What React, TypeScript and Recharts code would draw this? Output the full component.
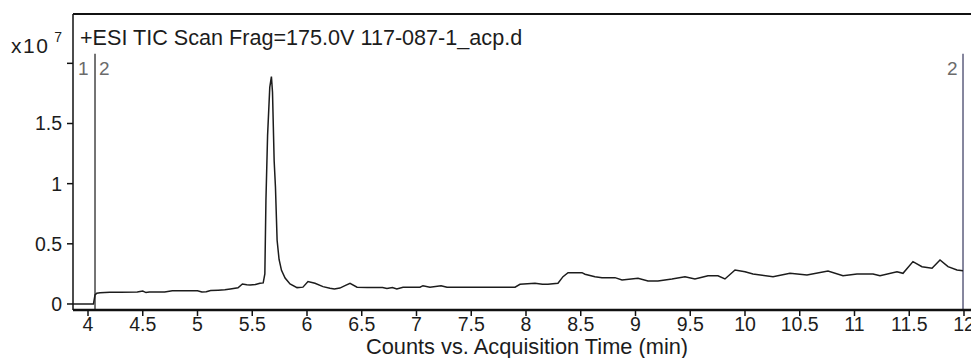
import React from 'react';
import { LineChart, Line, XAxis, YAxis, ReferenceLine, Label } from 'recharts';

// acquisition time (min) and TIC counts (x10^7)
const times = [
  3.863, 4.05, 4.064, 4.08, 4.11, 4.2, 4.3, 4.45, 4.5, 4.53, 4.56, 4.7, 4.77, 4.9, 5.0, 5.04,
  5.08, 5.12, 5.19, 5.25, 5.3, 5.37, 5.41, 5.45, 5.48, 5.53, 5.57, 5.6, 5.615, 5.625, 5.64,
  5.66, 5.675, 5.685, 5.7, 5.712, 5.727, 5.745, 5.767, 5.8, 5.845, 5.909, 5.963, 6.009, 6.073,
  6.146, 6.21, 6.25, 6.3, 6.347, 6.393, 6.457, 6.55, 6.69, 6.73, 6.78, 6.82, 6.877, 7.032,
  7.059, 7.123, 7.224, 7.279, 7.58, 7.9, 7.945, 8.082, 8.15, 8.2, 8.292, 8.338, 8.384, 8.511,
  8.539, 8.63, 8.694, 8.813, 8.877, 9.023, 9.114, 9.205, 9.333, 9.452, 9.543, 9.662, 9.753,
  9.817, 9.909, 10.0, 10.073, 10.256, 10.411, 10.566, 10.758, 10.895, 11.023, 11.169, 11.233,
  11.388, 11.443, 11.534, 11.616, 11.708, 11.781, 11.854, 11.936, 11.991,
];
const counts = [
  0.0, 0.0, 0.075, 0.09, 0.094, 0.097, 0.097, 0.1, 0.108, 0.095, 0.1, 0.1, 0.11, 0.11, 0.11, 0.1,
  0.102, 0.112, 0.115, 0.118, 0.125, 0.135, 0.166, 0.16, 0.158, 0.162, 0.172, 0.175, 0.25, 0.86, 1.4,
  1.8, 1.89, 1.76, 1.19, 0.97, 0.53, 0.37, 0.28, 0.216, 0.166, 0.136, 0.14, 0.186, 0.172,
  0.144, 0.13, 0.125, 0.132, 0.152, 0.172, 0.139, 0.136, 0.136, 0.128, 0.136, 0.125, 0.139, 0.139,
  0.152, 0.139, 0.152, 0.139, 0.139, 0.14, 0.164, 0.172, 0.164, 0.164, 0.172, 0.227, 0.26, 0.26,
  0.247, 0.227, 0.219, 0.219, 0.2, 0.214, 0.191, 0.191, 0.208, 0.227, 0.208, 0.235, 0.235,
  0.208, 0.283, 0.268, 0.249, 0.227, 0.255, 0.241, 0.274, 0.235, 0.249, 0.249, 0.235,
  0.268, 0.255, 0.352, 0.31, 0.297, 0.366, 0.31, 0.283, 0.277,
];

const xTicks = [4, 4.5, 5, 5.5, 6, 6.5, 7, 7.5, 8, 8.5, 9, 9.5, 10, 10.5, 11, 11.5, 12];
const yTicks = [0, 0.5, 1, 1.5, 2];

// start / end markers of the integration window
const markerStart = 4.064;
const markerEnd = 11.991;
const markerTop = 2.08;

const X_MIN = 3.863;
const X_MAX = 12.064;
const Y_MIN = -0.05;
const Y_MAX = 2.41;

const data = times.map((t, i) => ({ t, v: counts[i] }));

const FONT = '"Liberation Sans", Arial, sans-serif';
const INK = '#1c1c1c';

function Header({ viewBox }: any) {
  const { x, y, width } = viewBox;
  return (
    <g fontFamily={FONT} fill={INK}>
      <text x={x + 11} y={y + 39} fontSize={21} letterSpacing={1.5}>
        x10
        <tspan dx={5} dy={-11} fontSize={14}>7</tspan>
      </text>
      <text x={x + width + 7} y={y + 31} fontSize={21.6}>
        +ESI TIC Scan Frag=175.0V 117-087-1_acp.d
      </text>
    </g>
  );
}

function StartMarkerLabels({ viewBox }: any) {
  const { x, y } = viewBox;
  return (
    <g fontFamily={FONT} fill="#6b6b6b" fontSize={19}>
      <text x={x - 17} y={y + 21}>1</text>
      <text x={x + 4} y={y + 21}>2</text>
    </g>
  );
}

function EndMarkerLabels({ viewBox }: any) {
  const { x, y } = viewBox;
  return (
    <text x={x - 16} y={y + 21} fontFamily={FONT} fill="#6b6b6b" fontSize={19}>
      2
    </text>
  );
}

export default function App() {
  return (
    <div style={{ position: 'absolute', left: 0, top: 0, width: 971, height: 358, background: '#fff' }}>
      <LineChart width={971} height={358} data={data} margin={{ top: 14, right: 0, bottom: 0, left: 0 }}>
        <XAxis
          dataKey="t"
          type="number"
          domain={[X_MIN, X_MAX]}
          allowDataOverflow
          ticks={xTicks}
          interval={0}
          height={48}
          tickSize={6}
          tickMargin={1}
          axisLine={{ stroke: '#111', strokeWidth: 2.5 }}
          tickLine={{ stroke: '#111', strokeWidth: 1.5 }}
          tick={{ fill: INK, fontSize: 19.5, fontFamily: FONT }}
        >
          <Label
            value="Counts vs. Acquisition Time (min)"
            position="insideBottom"
            offset={4}
            dx={5}
            fill={INK}
            fontSize={21.8}
            fontFamily={FONT}
          />
        </XAxis>
        <YAxis
          type="number"
          domain={[Y_MIN, Y_MAX]}
          allowDataOverflow
          ticks={yTicks}
          interval={0}
          width={73}
          tickSize={6}
          tickMargin={5}
          tickFormatter={(v: number) => (v === 2 ? '' : String(v))}
          axisLine={{ stroke: '#111', strokeWidth: 1.5 }}
          tickLine={{ stroke: '#111', strokeWidth: 1.5 }}
          tick={{ fill: INK, fontSize: 19.5, fontFamily: FONT }}
        >
          <Label content={Header} />
        </YAxis>
        <ReferenceLine y={Y_MAX} stroke="#111" strokeWidth={2} ifOverflow="visible" />
        <ReferenceLine
          segment={[{ x: markerStart, y: Y_MIN }, { x: markerStart, y: markerTop }]}
          stroke="#2a2a2a"
          strokeWidth={1.3}
          ifOverflow="visible"
        >
          <Label content={StartMarkerLabels} />
        </ReferenceLine>
        <ReferenceLine
          segment={[{ x: markerEnd, y: Y_MIN }, { x: markerEnd, y: markerTop }]}
          stroke="#45466a"
          strokeWidth={1.3}
          ifOverflow="visible"
        >
          <Label content={EndMarkerLabels} />
        </ReferenceLine>
        <Line
          type="linear"
          dataKey="v"
          stroke={INK}
          strokeWidth={1.5}
          dot={false}
          activeDot={false}
          isAnimationActive={false}
        />
      </LineChart>
    </div>
  );
}
